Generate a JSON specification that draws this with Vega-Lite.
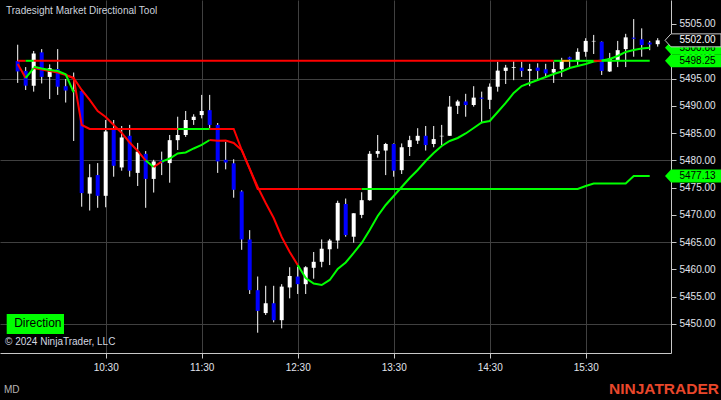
{
  "$schema": "https://vega.github.io/schema/vega-lite/v6.json",
  "width": 671,
  "height": 353,
  "autosize": "none",
  "padding": {"left": 0, "top": 0, "right": 50, "bottom": 47},
  "background": "#000000",
  "config": {
    "view": {"stroke": null},
    "font": "Liberation Sans",
    "axis": {"labelFont": "Liberation Sans"},
    "scale": {"continuousPadding": 0}
  },
  "title": {
    "text": "Tradesight Market Directional Tool",
    "anchor": "start",
    "frame": "group",
    "offset": -16,
    "dx": 6,
    "fontSize": 10,
    "fontWeight": "normal",
    "font": "Liberation Sans",
    "color": "#cdd3dd"
  },
  "datasets": {
    "candles": [
      {"t":575,"o":5498.2,"h":5501.2,"l":5494.2,"c":5496.3},
      {"t":580,"o":5496.4,"h":5497.1,"l":5492.9,"c":5493.7},
      {"t":585,"o":5493.7,"h":5500.05,"l":5492.6,"c":5499.6},
      {"t":590,"o":5499.8,"h":5500.4,"l":5494.1,"c":5495.3},
      {"t":595,"o":5495.3,"h":5497.6,"l":5491.25,"c":5496.9},
      {"t":600,"o":5496.75,"h":5500.4,"l":5492.0,"c":5493.5},
      {"t":605,"o":5493.6,"h":5494.9,"l":5490.6,"c":5492.8},
      {"t":610,"o":5492.7,"h":5496.1,"l":5483.55,"c":5492.8},
      {"t":615,"o":5492.7,"h":5492.9,"l":5471.5,"c":5474.0},
      {"t":620,"o":5473.9,"h":5479.3,"l":5470.8,"c":5476.9},
      {"t":625,"o":5477.3,"h":5479.5,"l":5471.3,"c":5473.5},
      {"t":630,"o":5473.5,"h":5487.4,"l":5471.4,"c":5485.3},
      {"t":635,"o":5485.7,"h":5487.4,"l":5477.0,"c":5479.0},
      {"t":640,"o":5478.7,"h":5486.3,"l":5478.1,"c":5484.2},
      {"t":645,"o":5484.5,"h":5486.5,"l":5477.0,"c":5478.1},
      {"t":650,"o":5477.7,"h":5483.2,"l":5475.3,"c":5481.6},
      {"t":655,"o":5481.2,"h":5481.7,"l":5471.3,"c":5476.6},
      {"t":660,"o":5476.6,"h":5480.1,"l":5474.1,"c":5479.8},
      {"t":665,"o":5480.1,"h":5481.6,"l":5477.3,"c":5479.5},
      {"t":670,"o":5479.5,"h":5484.65,"l":5475.9,"c":5483.7},
      {"t":675,"o":5483.7,"h":5488.0,"l":5481.9,"c":5484.65},
      {"t":680,"o":5484.65,"h":5489.05,"l":5484.3,"c":5487.4},
      {"t":685,"o":5487.4,"h":5488.45,"l":5486.5,"c":5488.0},
      {"t":690,"o":5488.3,"h":5492.0,"l":5487.7,"c":5489.05},
      {"t":695,"o":5489.2,"h":5492.0,"l":5485.9,"c":5486.5},
      {"t":700,"o":5486.5,"h":5486.85,"l":5477.7,"c":5479.8},
      {"t":705,"o":5480.1,"h":5483.4,"l":5478.35,"c":5479.6},
      {"t":710,"o":5479.45,"h":5480.2,"l":5473.15,"c":5474.6},
      {"t":715,"o":5474.3,"h":5474.5,"l":5463.6,"c":5465.5},
      {"t":720,"o":5465.5,"h":5467.2,"l":5455.5,"c":5456.2},
      {"t":725,"o":5456.2,"h":5458.7,"l":5448.4,"c":5452.4},
      {"t":730,"o":5452.0,"h":5457.0,"l":5451.65,"c":5453.8},
      {"t":735,"o":5453.8,"h":5457.0,"l":5450.3,"c":5450.7},
      {"t":740,"o":5450.7,"h":5457.3,"l":5449.2,"c":5456.85},
      {"t":745,"o":5456.7,"h":5460.4,"l":5454.7,"c":5458.8},
      {"t":750,"o":5458.7,"h":5460.5,"l":5455.5,"c":5457.3},
      {"t":755,"o":5457.3,"h":5460.6,"l":5455.5,"c":5460.4},
      {"t":760,"o":5460.3,"h":5463.2,"l":5458.3,"c":5461.4},
      {"t":765,"o":5461.4,"h":5465.5,"l":5460.4,"c":5463.8},
      {"t":770,"o":5463.7,"h":5465.6,"l":5460.8,"c":5465.3},
      {"t":775,"o":5465.3,"h":5472.6,"l":5463.8,"c":5472.2},
      {"t":780,"o":5472.0,"h":5473.0,"l":5466.0,"c":5466.3},
      {"t":785,"o":5466.0,"h":5470.3,"l":5464.9,"c":5470.3},
      {"t":790,"o":5470.0,"h":5474.15,"l":5469.4,"c":5472.7},
      {"t":795,"o":5472.7,"h":5481.7,"l":5472.6,"c":5481.2},
      {"t":800,"o":5481.2,"h":5484.65,"l":5480.5,"c":5481.7},
      {"t":805,"o":5481.8,"h":5483.2,"l":5477.3,"c":5483.0},
      {"t":810,"o":5483.0,"h":5483.1,"l":5477.0,"c":5478.1},
      {"t":815,"o":5478.2,"h":5483.1,"l":5477.5,"c":5482.4},
      {"t":820,"o":5482.45,"h":5484.5,"l":5480.8,"c":5483.7},
      {"t":825,"o":5483.6,"h":5485.9,"l":5483.0,"c":5484.5},
      {"t":830,"o":5484.5,"h":5486.3,"l":5481.8,"c":5482.8},
      {"t":835,"o":5483.0,"h":5486.3,"l":5482.4,"c":5483.9},
      {"t":840,"o":5484.4,"h":5486.5,"l":5482.8,"c":5484.5},
      {"t":845,"o":5484.5,"h":5491.8,"l":5484.5,"c":5489.85},
      {"t":850,"o":5490.0,"h":5491.1,"l":5488.5,"c":5490.8},
      {"t":855,"o":5490.8,"h":5492.2,"l":5488.0,"c":5490.15},
      {"t":860,"o":5490.15,"h":5493.6,"l":5489.85,"c":5491.5},
      {"t":865,"o":5491.5,"h":5492.6,"l":5486.8,"c":5491.3},
      {"t":870,"o":5491.1,"h":5494.1,"l":5489.4,"c":5493.5},
      {"t":875,"o":5493.5,"h":5498.1,"l":5492.6,"c":5496.45},
      {"t":880,"o":5496.4,"h":5497.5,"l":5494.0,"c":5497.0},
      {"t":885,"o":5497.0,"h":5498.2,"l":5494.7,"c":5497.1},
      {"t":890,"o":5497.0,"h":5498.1,"l":5495.3,"c":5496.4},
      {"t":895,"o":5496.4,"h":5497.7,"l":5493.6,"c":5496.75},
      {"t":900,"o":5497.0,"h":5497.8,"l":5494.7,"c":5496.4},
      {"t":905,"o":5496.7,"h":5497.7,"l":5495.2,"c":5495.95},
      {"t":910,"o":5496.1,"h":5498.1,"l":5494.2,"c":5496.75},
      {"t":915,"o":5496.7,"h":5498.8,"l":5495.3,"c":5498.4},
      {"t":920,"o":5498.9,"h":5499.0,"l":5497.1,"c":5498.5},
      {"t":925,"o":5498.4,"h":5500.55,"l":5497.5,"c":5499.9},
      {"t":930,"o":5499.9,"h":5502.4,"l":5499.0,"c":5501.9},
      {"t":935,"o":5501.8,"h":5503.0,"l":5499.5,"c":5501.9},
      {"t":940,"o":5501.75,"h":5501.8,"l":5495.65,"c":5496.4},
      {"t":945,"o":5496.3,"h":5499.7,"l":5496.2,"c":5498.7},
      {"t":950,"o":5498.4,"h":5501.9,"l":5497.1,"c":5500.2},
      {"t":955,"o":5500.4,"h":5503.2,"l":5497.1,"c":5502.55},
      {"t":960,"o":5502.5,"h":5505.9,"l":5499.0,"c":5502.3},
      {"t":965,"o":5502.2,"h":5504.2,"l":5499.0,"c":5501.15},
      {"t":970,"o":5501.6,"h":5501.9,"l":5500.2,"c":5501.25},
      {"t":975,"o":5501.3,"h":5502.4,"l":5500.85,"c":5502.0}
    ],
    "lines": [
      {"g":"L2a","c":"down","t":605,"v":5495.65},
      {"g":"L2a","c":"down","t":610,"v":5495.1},
      {"g":"L2a","c":"down","t":615,"v":5486.48},
      {"g":"L2a","c":"down","t":620,"v":5485.75},
      {"g":"L2a","c":"down","t":675,"v":5485.75},
      {"g":"L2b","c":"up","t":675,"v":5485.75},
      {"g":"L2b","c":"up","t":695,"v":5485.75},
      {"g":"L2c","c":"down","t":695,"v":5485.75},
      {"g":"L2c","c":"down","t":710,"v":5485.75},
      {"g":"L2c","c":"down","t":715,"v":5481.9},
      {"g":"L2c","c":"down","t":720,"v":5478.42},
      {"g":"L2c","c":"down","t":725,"v":5474.75},
      {"g":"L2c","c":"down","t":790,"v":5474.75},
      {"g":"L2d","c":"up","t":790,"v":5474.75},
      {"g":"L2d","c":"up","t":925,"v":5474.75},
      {"g":"L2d","c":"up","t":930,"v":5475.3},
      {"g":"L2d","c":"up","t":935,"v":5475.75},
      {"g":"L2d","c":"up","t":955,"v":5475.75},
      {"g":"L2d","c":"up","t":960,"v":5477.13},
      {"g":"L2d","c":"up","t":970,"v":5477.13},
      {"g":"S1","c":"down","t":575,"v":5497.67},
      {"g":"S1","c":"down","t":580,"v":5495.1},
      {"g":"S2","c":"up","t":580,"v":5495.1},
      {"g":"S2","c":"up","t":585,"v":5496.93},
      {"g":"S3","c":"down","t":585,"v":5496.93},
      {"g":"S3","c":"down","t":590,"v":5496.66},
      {"g":"S3","c":"down","t":595,"v":5496.38},
      {"g":"S3","c":"down","t":600,"v":5496.11},
      {"g":"S3","c":"down","t":605,"v":5495.65},
      {"g":"S3","c":"down","t":610,"v":5495.1},
      {"g":"S3","c":"down","t":615,"v":5492.9},
      {"g":"S3","c":"down","t":620,"v":5491.07},
      {"g":"S3","c":"down","t":625,"v":5489.05},
      {"g":"S3","c":"down","t":630,"v":5487.95},
      {"g":"S3","c":"down","t":635,"v":5486.48},
      {"g":"S3","c":"down","t":640,"v":5485.02},
      {"g":"S3","c":"down","t":645,"v":5483.28},
      {"g":"S3","c":"down","t":650,"v":5481.72},
      {"g":"S3","c":"down","t":655,"v":5479.97},
      {"g":"S4","c":"up","t":655,"v":5479.97},
      {"g":"S4","c":"up","t":660,"v":5478.78},
      {"g":"S5","c":"down","t":660,"v":5478.78},
      {"g":"S5","c":"down","t":665,"v":5479.76},
      {"g":"S6","c":"up","t":665,"v":5479.76},
      {"g":"S6","c":"up","t":670,"v":5480.34},
      {"g":"S6","c":"up","t":675,"v":5481.26},
      {"g":"S6","c":"up","t":680,"v":5481.44},
      {"g":"S6","c":"up","t":685,"v":5482.18},
      {"g":"S6","c":"up","t":690,"v":5482.82},
      {"g":"S6","c":"up","t":695,"v":5483.73},
      {"g":"S7","c":"down","t":695,"v":5483.73},
      {"g":"S7","c":"down","t":700,"v":5483.61},
      {"g":"S7","c":"down","t":705,"v":5483.64},
      {"g":"S7","c":"down","t":710,"v":5483.18},
      {"g":"S7","c":"down","t":715,"v":5481.9},
      {"g":"S7","c":"down","t":720,"v":5478.42},
      {"g":"S7","c":"down","t":725,"v":5475.12},
      {"g":"S7","c":"down","t":730,"v":5472.18},
      {"g":"S7","c":"down","t":735,"v":5469.43},
      {"g":"S7","c":"down","t":740,"v":5465.95},
      {"g":"S7","c":"down","t":745,"v":5463.2},
      {"g":"S7","c":"down","t":750,"v":5460.82},
      {"g":"S8","c":"up","t":750,"v":5460.82},
      {"g":"S8","c":"up","t":755,"v":5458.43},
      {"g":"S8","c":"up","t":760,"v":5457.42},
      {"g":"S8","c":"up","t":765,"v":5457.15},
      {"g":"S8","c":"up","t":770,"v":5458.07},
      {"g":"S8","c":"up","t":775,"v":5460.08},
      {"g":"S8","c":"up","t":780,"v":5461.28},
      {"g":"S8","c":"up","t":785,"v":5463.02},
      {"g":"S8","c":"up","t":790,"v":5464.85},
      {"g":"S8","c":"up","t":795,"v":5467.23},
      {"g":"S8","c":"up","t":800,"v":5469.8},
      {"g":"S8","c":"up","t":805,"v":5471.82},
      {"g":"S8","c":"up","t":810,"v":5473.47},
      {"g":"S8","c":"up","t":815,"v":5475.12},
      {"g":"S8","c":"up","t":820,"v":5476.77},
      {"g":"S8","c":"up","t":825,"v":5478.23},
      {"g":"S8","c":"up","t":830,"v":5479.88},
      {"g":"S8","c":"up","t":835,"v":5481.35},
      {"g":"S8","c":"up","t":840,"v":5482.63},
      {"g":"S8","c":"up","t":845,"v":5483.55},
      {"g":"S8","c":"up","t":850,"v":5484.1},
      {"g":"S8","c":"up","t":855,"v":5484.93},
      {"g":"S8","c":"up","t":860,"v":5485.93},
      {"g":"S8","c":"up","t":865,"v":5486.94},
      {"g":"S8","c":"up","t":870,"v":5487.22},
      {"g":"S8","c":"up","t":875,"v":5488.87},
      {"g":"S8","c":"up","t":880,"v":5490.52},
      {"g":"S8","c":"up","t":885,"v":5492.35},
      {"g":"S8","c":"up","t":890,"v":5493.63},
      {"g":"S8","c":"up","t":895,"v":5494.18},
      {"g":"S8","c":"up","t":900,"v":5494.73},
      {"g":"S8","c":"up","t":905,"v":5495.28},
      {"g":"S8","c":"up","t":910,"v":5495.83},
      {"g":"S8","c":"up","t":915,"v":5496.29},
      {"g":"S8","c":"up","t":920,"v":5496.93},
      {"g":"S8","c":"up","t":925,"v":5497.3},
      {"g":"S8","c":"up","t":930,"v":5497.67},
      {"g":"S8","c":"up","t":935,"v":5498.13},
      {"g":"S8","c":"up","t":940,"v":5498.31},
      {"g":"S8","c":"up","t":945,"v":5498.58},
      {"g":"S8","c":"up","t":950,"v":5499.13},
      {"g":"S8","c":"up","t":955,"v":5499.87},
      {"g":"S8","c":"up","t":960,"v":5500.23},
      {"g":"S8","c":"up","t":965,"v":5500.51},
      {"g":"S8","c":"up","t":970,"v":5500.66},
      {"g":"F1","c":"up","t":585,"v":5497.17},
      {"g":"F1","c":"up","t":590,"v":5496.84},
      {"g":"F1","c":"up","t":595,"v":5496.57},
      {"g":"F1","c":"up","t":600,"v":5496.38},
      {"g":"F1","c":"up","t":605,"v":5495.78},
      {"g":"F1","c":"up","t":610,"v":5492.48},
      {"g":"L1a","c":"down","t":575,"v":5498.25},
      {"g":"L1a","c":"down","t":580,"v":5498.25},
      {"g":"L1b","c":"up","t":580,"v":5498.25},
      {"g":"L1b","c":"up","t":585,"v":5498.25},
      {"g":"L1c","c":"down","t":585,"v":5498.25},
      {"g":"L1c","c":"down","t":910,"v":5498.25},
      {"g":"L1d","c":"up","t":910,"v":5498.25},
      {"g":"L1d","c":"up","t":915,"v":5498.25},
      {"g":"L1e","c":"flat","t":915,"v":5498.25},
      {"g":"L1e","c":"flat","t":920,"v":5498.25},
      {"g":"L1f","c":"up","t":920,"v":5498.25},
      {"g":"L1f","c":"up","t":935,"v":5498.25},
      {"g":"L1g","c":"down","t":935,"v":5498.25},
      {"g":"L1g","c":"down","t":940,"v":5498.25},
      {"g":"L1h","c":"up","t":940,"v":5498.25},
      {"g":"L1h","c":"up","t":970,"v":5498.25}
    ],
    "markers": [
      {"k":"ind","v":5500.66},
      {"k":"ind","v":5498.25},
      {"k":"ind","v":5477.13},
      {"k":"price","v":5502.0}
    ]
  },
  "layer": [
    {
      "data": {"name": "candles"},
      "mark": {"type": "rule", "color": "#ffffff", "strokeWidth": 1},
      "encoding": {
        "x": {
          "field": "t", "type": "quantitative",
          "scale": {"domain": [563.94, 983.31], "nice": false, "zero": false, "padding": 0},
          "axis": {
            "values": [630, 690, 750, 810, 870, 930],
            "tickCount": 20,
            "labelExpr": "floor(datum.value/60) + ':' + (datum.value % 60 < 10 ? '0' : '') + (datum.value % 60)",
            "title": null,
            "grid": true,
            "gridColor": "#404040",
            "domainColor": "#c8c8c8",
            "tickColor": "#c8c8c8",
            "tickSize": 5,
            "labelColor": "#e0e4ec",
            "labelFontSize": 10,
            "labelPadding": 4,
            "labelFlush": false
          }
        },
        "y": {
          "field": "l", "type": "quantitative",
          "scale": {"domain": [5444.68, 5509.4], "nice": false, "zero": false, "padding": 0},
          "axis": {
            "orient": "right",
            "values": [5450, 5455, 5460, 5465, 5470, 5475, 5480, 5485, 5490, 5495, 5500, 5505],
            "tickCount": 30,
            "format": ".2f",
            "title": null,
            "grid": true,
            "gridColor": "#404040",
            "gridOpacity": {"condition": {"test": "datum.value % 15 == 5", "value": 1}, "value": 0},
            "domainColor": "#c8c8c8",
            "tickColor": "#c8c8c8",
            "tickSize": 5,
            "labelColor": "#e0e4ec",
            "labelFontSize": 10,
            "labelPadding": 3,
            "labelOverlap": false
          }
        },
        "y2": {"field": "h"}
      }
    },
    {
      "data": {"name": "candles"},
      "mark": {"type": "bar", "size": 4},
      "encoding": {
        "x": {"field": "t", "type": "quantitative"},
        "y": {"field": "o", "type": "quantitative"},
        "y2": {"field": "c"},
        "color": {"condition": {"test": "datum.c < datum.o", "value": "#0000ff"}, "value": "#ffffff"}
      }
    },
    {
      "data": {"name": "lines"},
      "mark": {"type": "line", "strokeWidth": 2},
      "encoding": {
        "x": {"field": "t", "type": "quantitative"},
        "y": {"field": "v", "type": "quantitative"},
        "detail": {"field": "g", "type": "nominal"},
        "color": {
          "field": "c", "type": "nominal",
          "scale": {"domain": ["up", "down", "flat"], "range": ["#00ff00", "#ff0000", "#ffa500"]},
          "legend": null
        }
      }
    },
    {
      "data": {"name": "markers"},
      "transform": [{"filter": "datum.k == 'ind'"}],
      "mark": {"type": "point", "shape": "M-1,0L-0.786,-0.232L1,-0.232L1,0.232L-0.786,0.232Z", "size": 3136, "filled": true, "opacity": 1, "color": "#00ff00"},
      "encoding": {
        "x": {"datum": 997.07, "type": "quantitative"},
        "y": {"field": "v", "type": "quantitative"}
      }
    },
    {
      "data": {"name": "markers"},
      "transform": [{"filter": "datum.k == 'ind'"}],
      "mark": {"type": "text", "align": "center", "baseline": "middle", "fontSize": 10, "font": "Liberation Sans", "color": "#000000"},
      "encoding": {
        "x": {"datum": 999.88, "type": "quantitative"},
        "y": {"field": "v", "type": "quantitative"},
        "text": {"field": "v", "type": "quantitative", "format": ".2f"}
      }
    },
    {
      "data": {"name": "markers"},
      "transform": [{"filter": "datum.k == 'price'"}],
      "mark": {"type": "point", "shape": "M-1,0L-0.786,-0.232L1,-0.232L1,0.232L-0.786,0.232Z", "size": 3136, "filled": true, "opacity": 1, "fill": "#000000", "stroke": "#c8c8c8", "strokeWidth": 1},
      "encoding": {
        "x": {"datum": 997.07, "type": "quantitative"},
        "y": {"field": "v", "type": "quantitative"}
      }
    },
    {
      "data": {"name": "markers"},
      "transform": [{"filter": "datum.k == 'price'"}],
      "mark": {"type": "text", "align": "center", "baseline": "middle", "fontSize": 10, "font": "Liberation Sans", "color": "#ffffff"},
      "encoding": {
        "x": {"datum": 999.88, "type": "quantitative"},
        "y": {"field": "v", "type": "quantitative"},
        "text": {"field": "v", "type": "quantitative", "format": ".2f"}
      }
    },
    {
      "data": {"values": [{}]},
      "mark": {"type": "rect", "color": "#00ff00"},
      "encoding": {
        "x": {"datum": 568.13, "type": "quantitative"},
        "x2": {"datum": 603.94},
        "y": {"datum": 5451.83, "type": "quantitative"},
        "y2": {"datum": 5448.17}
      }
    },
    {
      "data": {"values": [{}]},
      "mark": {"type": "text", "align": "center", "baseline": "alphabetic", "fontSize": 12, "font": "Liberation Sans", "color": "#000000"},
      "encoding": {
        "x": {"datum": 587.57, "type": "quantitative"},
        "y": {"datum": 5449.36, "type": "quantitative"},
        "text": {"value": "Direction"}
      }
    },
    {
      "data": {"values": [{}]},
      "mark": {"type": "text", "align": "left", "baseline": "alphabetic", "fontSize": 10, "font": "Liberation Sans", "color": "#d4d8e0"},
      "encoding": {
        "x": {"datum": 567.06, "type": "quantitative"},
        "y": {"datum": 5446.15, "type": "quantitative"},
        "text": {"value": "© 2024 NinjaTrader, LLC"}
      }
    },
    {
      "data": {"values": [{}]},
      "mark": {"type": "text", "align": "left", "baseline": "alphabetic", "fontSize": 10, "font": "Liberation Sans", "color": "#b4b4b4"},
      "encoding": {
        "x": {"datum": 566.44, "type": "quantitative"},
        "y": {"datum": 5437.35, "type": "quantitative"},
        "text": {"value": "MD"}
      }
    },
    {
      "data": {"values": [{}]},
      "mark": {"type": "text", "align": "right", "baseline": "alphabetic", "fontSize": 15.5, "fontWeight": "bold", "font": "Liberation Sans", "color": "#e9472b"},
      "encoding": {
        "x": {"datum": 1013.31, "type": "quantitative"},
        "y": {"datum": 5437.1, "type": "quantitative"},
        "text": {"value": "NINJATRADER"}
      }
    }
  ]
}
